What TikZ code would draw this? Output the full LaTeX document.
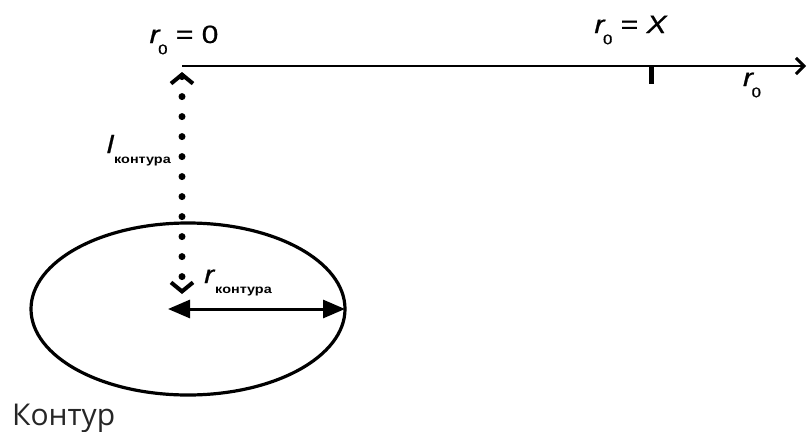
\documentclass[tikz,border=0pt]{standalone}
\usepackage{fontspec}
\setmainfont{Liberation Sans}[UprightFeatures={FakeBold=0.7},ItalicFeatures={FakeBold=0.7}]
\newfontfamily\contourfont{Open Sans}
\usetikzlibrary{arrows.meta}
\newcommand{\lbsub}[1]{\kern-2pt\raisebox{-0.45em}{\fontsize{14}{14}\selectfont #1}}
\newcommand{\wsub}[1]{\raisebox{-0.4em}{\fontsize{12}{12}\selectfont\bfseries #1}}
\tikzset{
  lbl/.style={inner sep=0pt, xscale=1.2, font=\fontsize{25}{25}\selectfont},
  axisline/.style={line width=2pt, -{Straight Barb[length=8pt,width=16pt,line width=3pt]}},
  dotline/.style={line width=7pt, dash pattern=on 0pt off 20pt, line cap=round,
     {Straight Barb[length=9pt,width=22pt,line width=4pt,line cap=butt]}-{Straight Barb[length=9pt,width=22pt,line width=4pt,line cap=butt]}},
  radline/.style={line width=3pt, {Triangle[length=22pt,width=18pt]}-{Triangle[length=22pt,width=18pt]}},
}
\begin{document}
\begin{tikzpicture}[x=1pt,y=-1pt]
\useasboundingbox (0,0) rectangle (808,431);
\coordinate (O) at (182,66);
\coordinate (E) at (806,66);
\coordinate (T1) at (651,66);
\coordinate (T2) at (651,84);
\coordinate (Dtop) at (182,72);
\coordinate (Dbot) at (182,294);
\coordinate (C) at (188,309);
\coordinate (Rl) at (168,309);
\coordinate (Rr) at (345,309);
\draw[axisline] (O) -- (E);
\draw[line width=5pt] (T1) -- (T2);
\draw[dotline] (Dtop) -- (Dbot);
\draw[line width=3.2pt] (C) ellipse [x radius=157, y radius=86];
\draw[radline] (Rl) -- (Rr);
\node[lbl, anchor=base] (l0) at (184,43) {\textit{r}\lbsub{0} = 0};
\node[lbl, anchor=base] (lX) at (631,33) {\textit{r}\lbsub{0} = \textit{X}};
\node[lbl, anchor=base] (lr) at (752,86) {\textit{r}\lbsub{0}};
\node[lbl, anchor=base east] (ll) at (171,153) {\textit{l}\wsub{контура}};
\node[lbl, anchor=base west] (lrk) at (204,283) {\textit{r}\wsub{контура}};
\node[inner sep=0pt, anchor=base west, text=black!85, font=\contourfont\fontsize{30}{30}\selectfont] (lk) at (12,425) {Контур};
\end{tikzpicture}
\end{document}
